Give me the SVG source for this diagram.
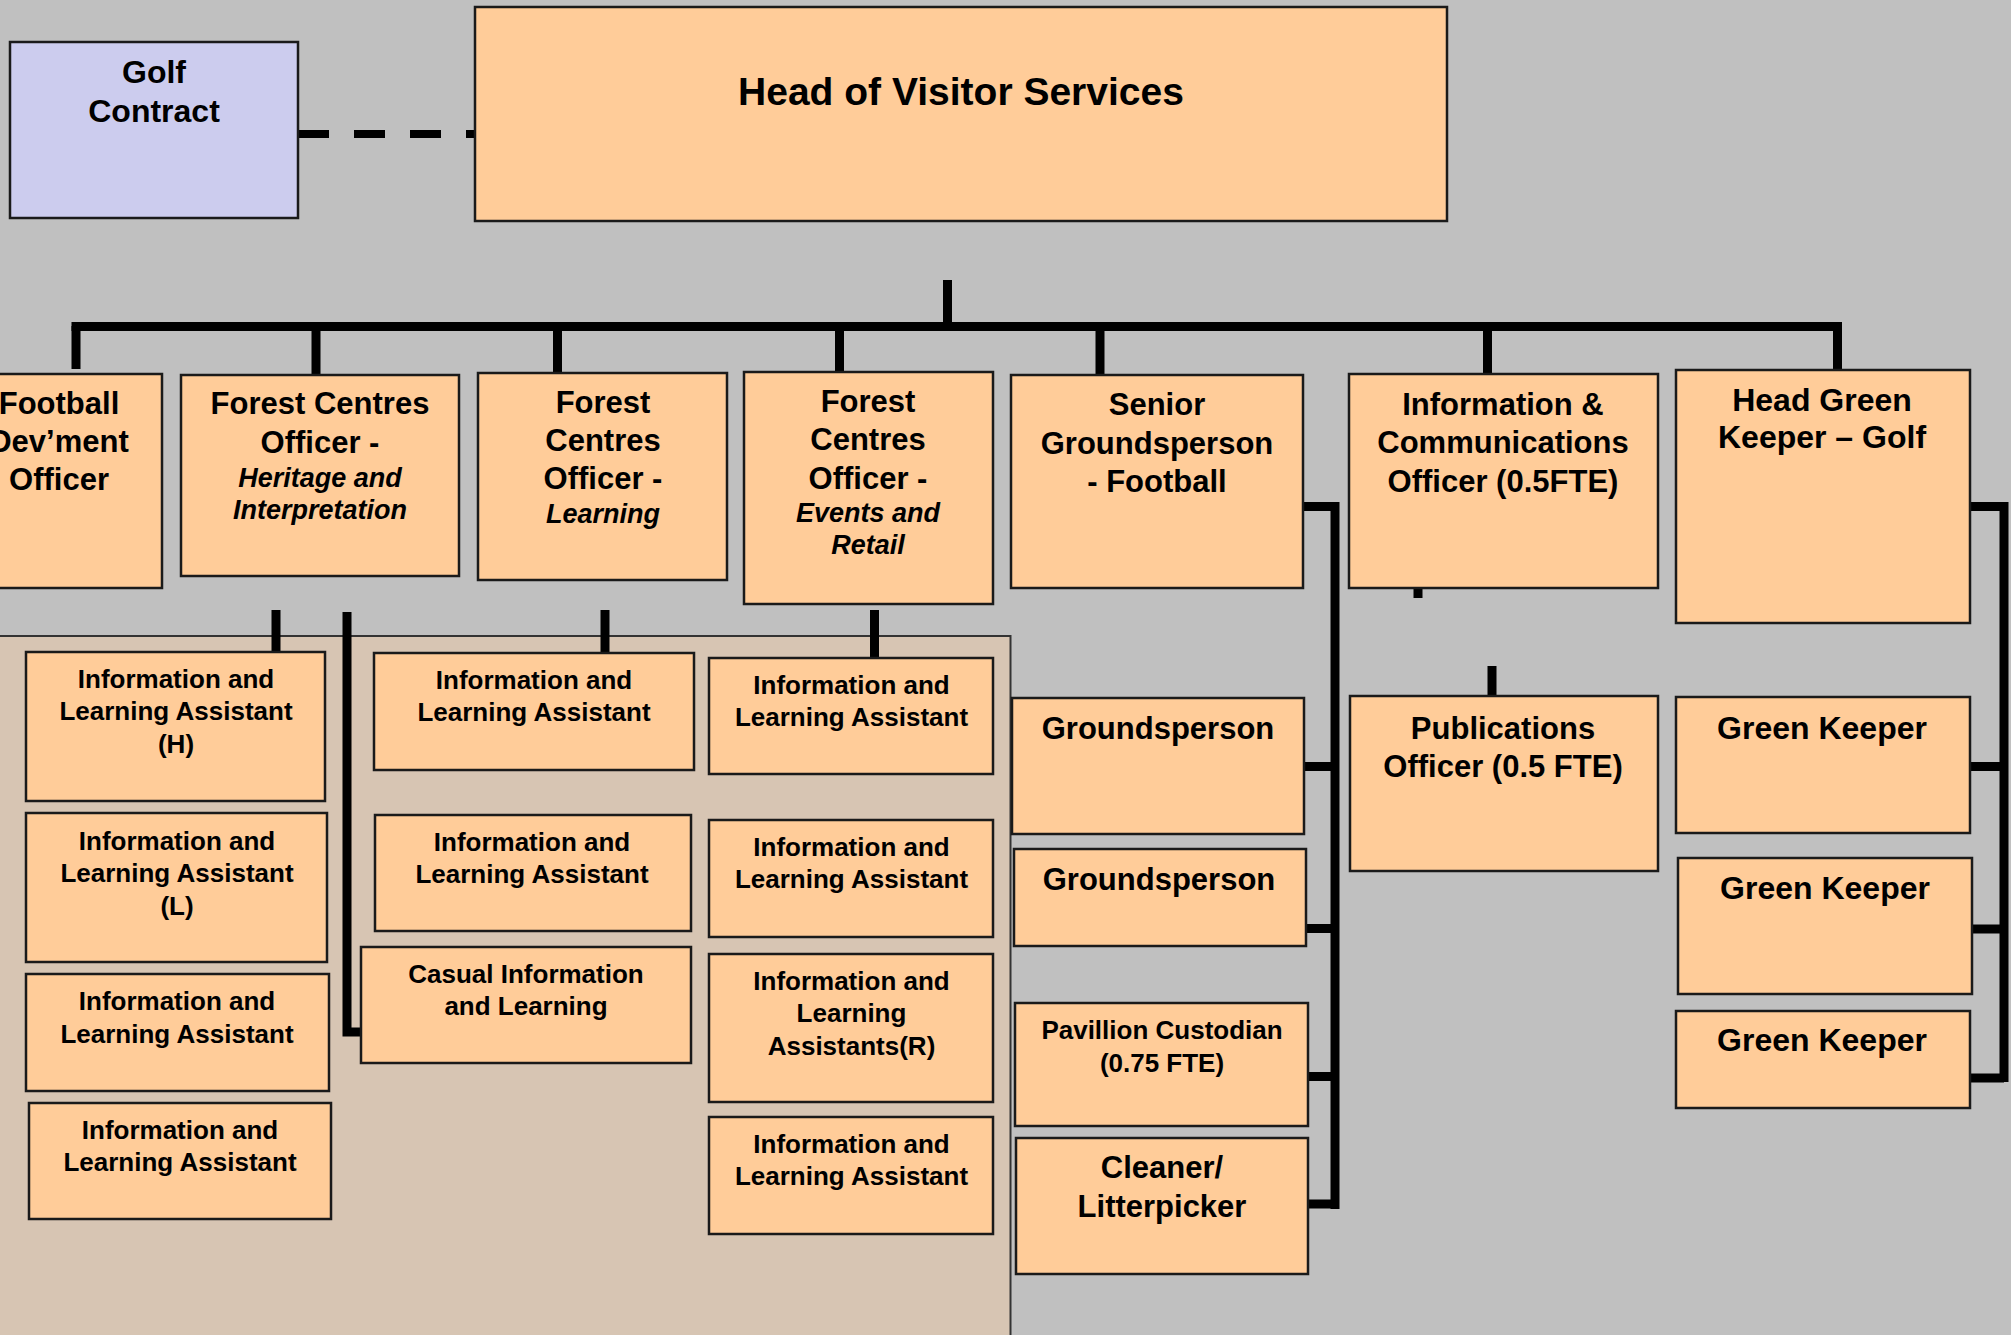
<svg xmlns="http://www.w3.org/2000/svg" width="2011" height="1335" viewBox="0 0 2011 1335">
<style>
.bg{fill:#C0C0C0}
.box{fill:#FFCC99;stroke:#1a1a1a;stroke-width:2.5}
.golf{fill:#CCCCEE;stroke:#1a1a1a;stroke-width:2.5}
.region{fill:#D7C5B3;stroke:#333;stroke-width:2}
.c{fill:none;stroke:#000;stroke-width:9;stroke-linecap:butt}
.dash{fill:none;stroke:#000;stroke-width:8;stroke-dasharray:31 25}
text{font-family:"Liberation Sans",Arial,sans-serif;font-weight:bold;fill:#000;text-anchor:middle}
.t2{font-size:31px}
.it{font-size:27px;font-style:italic}
.t3{font-size:26px}
.gk{font-size:32px}
</style>
<rect class="bg" x="0" y="0" width="2011" height="1335"/>
<rect class="region" x="-10" y="636" width="1020.5" height="710"/>

<g id="connectors">
<path class="dash" d="M298,134 H475"/>
<path class="c" d="M947.5,280 V326.5"/>
<path class="c" d="M71.5,326.5 H1842"/>
<path class="c" d="M76,326 V369"/>
<path class="c" d="M316,326 V375"/>
<path class="c" d="M557.5,326 V373"/>
<path class="c" d="M839.5,326 V373"/>
<path class="c" d="M1100,326 V375"/>
<path class="c" d="M1487.5,326 V374"/>
<path class="c" d="M1837.5,322 V370"/>
<path class="c" d="M1418,588 V598"/>
<path class="c" d="M1492,666 V696"/>
<path class="c" d="M1303,506.5 H1335 V1209"/>
<path class="c" d="M1304,766.5 H1335"/>
<path class="c" d="M1305.5,928.5 H1335"/>
<path class="c" d="M1308,1076.5 H1335"/>
<path class="c" d="M1308,1204 H1335"/>
<path class="c" d="M1970,506.5 H2004 V1082"/>
<path class="c" d="M1970,766.5 H2004"/>
<path class="c" d="M1971.5,929 H2004"/>
<path class="c" d="M1970,1078 H2004"/>
<path class="c" d="M276,610 V652"/>
<path class="c" d="M605,610 V653"/>
<path class="c" d="M874.5,610 V658"/>
<path class="c" d="M347,612 V1032 H361"/>
</g>

<g id="golf"><rect class="golf" x="10" y="42" width="288" height="176"/>
<text style="font-size:32px" x="154" y="83">Golf</text><text style="font-size:32px" x="154" y="122">Contract</text></g>

<g id="head"><rect class="box" x="475" y="7" width="972" height="214"/>
<text style="font-size:39px" x="961" y="105">Head of Visitor Services</text></g>

<g id="football"><rect class="box" x="-45" y="374" width="207" height="214"/>
<text class="t2" x="59" y="414">Football</text><text class="t2" x="59" y="452">Dev’ment</text><text class="t2" x="59" y="490">Officer</text></g>

<g id="heritage"><rect class="box" x="181" y="375" width="278" height="201"/>
<text class="t2" x="320" y="414">Forest Centres</text><text class="t2" x="320" y="453">Officer -</text>
<text class="it" x="320" y="487">Heritage and</text><text class="it" x="320" y="519">Interpretation</text></g>

<g id="learning"><rect class="box" x="478" y="373" width="249" height="207"/>
<text class="t2" x="603" y="413">Forest</text><text class="t2" x="603" y="451">Centres</text><text class="t2" x="603" y="489">Officer -</text>
<text class="it" x="603" y="523">Learning</text></g>

<g id="events"><rect class="box" x="744" y="372" width="249" height="232"/>
<text class="t2" x="868" y="412">Forest</text><text class="t2" x="868" y="450">Centres</text><text class="t2" x="868" y="489">Officer -</text>
<text class="it" x="868" y="522">Events and</text><text class="it" x="868" y="554">Retail</text></g>

<g id="senior"><rect class="box" x="1011" y="375" width="292" height="213"/>
<text class="t2" x="1157" y="415">Senior</text><text class="t2" x="1157" y="454">Groundsperson</text><text class="t2" x="1157" y="492">- Football</text></g>

<g id="infocomms"><rect class="box" x="1349" y="374" width="309" height="214"/>
<text class="t2" x="1503" y="415">Information &amp;</text><text class="t2" x="1503" y="453">Communications</text><text class="t2" x="1503" y="492">Officer (0.5FTE)</text></g>

<g id="headgreen"><rect class="box" x="1676" y="370" width="294" height="253"/>
<text class="gk" x="1822" y="411">Head Green</text><text class="gk" x="1822" y="448">Keeper – Golf</text></g>

<g id="ila-h"><rect class="box" x="26" y="652" width="299" height="149"/>
<text class="t3" x="176" y="688">Information and</text><text class="t3" x="176" y="720">Learning Assistant</text><text class="t3" x="176" y="753">(H)</text></g>

<g id="ila-l"><rect class="box" x="26" y="813" width="301" height="149"/>
<text class="t3" x="177" y="850">Information and</text><text class="t3" x="177" y="882">Learning Assistant</text><text class="t3" x="177" y="915">(L)</text></g>

<g id="ila-3"><rect class="box" x="26" y="974" width="303" height="117"/>
<text class="t3" x="177" y="1010">Information and</text><text class="t3" x="177" y="1043">Learning Assistant</text></g>

<g id="ila-4"><rect class="box" x="29" y="1103" width="302" height="116"/>
<text class="t3" x="180" y="1139">Information and</text><text class="t3" x="180" y="1171">Learning Assistant</text></g>

<g id="ila-m1"><rect class="box" x="374" y="653" width="320" height="117"/>
<text class="t3" x="534" y="689">Information and</text><text class="t3" x="534" y="721">Learning Assistant</text></g>

<g id="ila-m2"><rect class="box" x="375" y="815" width="316" height="116"/>
<text class="t3" x="532" y="851">Information and</text><text class="t3" x="532" y="883">Learning Assistant</text></g>

<g id="casual"><rect class="box" x="361" y="947" width="330" height="116"/>
<text class="t3" x="526" y="983">Casual Information</text><text class="t3" x="526" y="1015">and Learning</text></g>

<g id="ila-e1"><rect class="box" x="709" y="658" width="284" height="116"/>
<text class="t3" x="851.5" y="694">Information and</text><text class="t3" x="851.5" y="726">Learning Assistant</text></g>

<g id="ila-e2"><rect class="box" x="709" y="820" width="284" height="117"/>
<text class="t3" x="851.5" y="856">Information and</text><text class="t3" x="851.5" y="888">Learning Assistant</text></g>

<g id="ila-e3"><rect class="box" x="709" y="954" width="284" height="148"/>
<text class="t3" x="851.5" y="990">Information and</text><text class="t3" x="851.5" y="1022">Learning</text><text class="t3" x="851.5" y="1055">Assistants(R)</text></g>

<g id="ila-e4"><rect class="box" x="709" y="1117" width="284" height="117"/>
<text class="t3" x="851.5" y="1153">Information and</text><text class="t3" x="851.5" y="1185">Learning Assistant</text></g>

<g id="ground1"><rect class="box" x="1012" y="698" width="292" height="136"/>
<text class="t2" x="1158" y="739">Groundsperson</text></g>

<g id="ground2"><rect class="box" x="1014" y="849" width="292" height="97"/>
<text class="t2" x="1159" y="890">Groundsperson</text></g>

<g id="pavillion"><rect class="box" x="1015" y="1003" width="293" height="123"/>
<text class="t3" x="1162" y="1039">Pavillion Custodian</text><text class="t3" x="1162" y="1072">(0.75 FTE)</text></g>

<g id="cleaner"><rect class="box" x="1016" y="1138" width="292" height="136"/>
<text class="t2" x="1162" y="1178">Cleaner/</text><text class="t2" x="1162" y="1217">Litterpicker</text></g>

<g id="publications"><rect class="box" x="1350" y="696" width="308" height="175"/>
<text class="t2" x="1503" y="739">Publications</text><text class="t2" x="1503" y="777">Officer (0.5 FTE)</text></g>

<g id="gk1"><rect class="box" x="1676" y="697" width="294" height="136"/>
<text class="gk" x="1822" y="739">Green Keeper</text></g>

<g id="gk2"><rect class="box" x="1678" y="858" width="294" height="136"/>
<text class="gk" x="1825" y="899">Green Keeper</text></g>

<g id="gk3"><rect class="box" x="1676" y="1011" width="294" height="97"/>
<text class="gk" x="1822" y="1051">Green Keeper</text></g>
</svg>
